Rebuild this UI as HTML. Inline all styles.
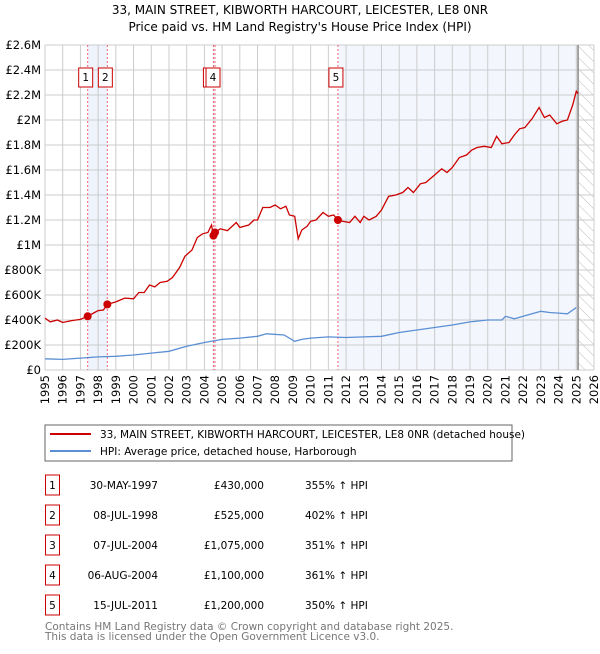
<!DOCTYPE html>
<html><head><meta charset="utf-8"><style>
body{margin:0;background:#fff;font-family:"DejaVu Sans","Liberation Sans",sans-serif;}
svg text{font-family:"DejaVu Sans","Liberation Sans",sans-serif;}
</style></head><body>
<svg id="c" width="600" height="650" viewBox="0 0 600 650" xmlns="http://www.w3.org/2000/svg">
<defs><pattern id="hatch" width="8" height="8" patternUnits="userSpaceOnUse" patternTransform="rotate(-45)"><line x1="0" y1="0" x2="0" y2="8" stroke="#bbb" stroke-width="1"/></pattern></defs>
<text x="300" y="14" text-anchor="middle" font-size="12">33, MAIN STREET, KIBWORTH HARCOURT, LEICESTER, LE8 0NR</text>
<text x="300" y="31" text-anchor="middle" font-size="12">Price paid vs. HM Land Registry's House Price Index (HPI)</text>
<g id="plot"></g>
<rect x="45" y="425" width="467" height="36" fill="#fff" stroke="#666"/>
<line x1="50" y1="434" x2="91" y2="434" stroke="#cc0000" stroke-width="2"/>
<text x="100" y="438" font-size="10.5">33, MAIN STREET, KIBWORTH HARCOURT, LEICESTER, LE8 0NR (detached house)</text>
<line x1="50" y1="451" x2="91" y2="451" stroke="#5b8fd4" stroke-width="2"/>
<text x="100" y="455" font-size="10.5">HPI: Average price, detached house, Harborough</text>
<g id="tbl"></g>
<text x="45" y="630" font-size="10.5" fill="#777">Contains HM Land Registry data © Crown copyright and database right 2025.</text>
<text x="45" y="640" font-size="10.5" fill="#777">This data is licensed under the Open Government Licence v3.0.</text>
</svg>
<script>
const redYears=[1995,1995.3,1995.7,1996,1996.5,1997,1997.41,1997.8,1998,1998.3,1998.52,1999,1999.5,2000,2000.3,2000.6,2000.9,2001.2,2001.5,2001.9,2002.2,2002.6,2002.9,2003.3,2003.6,2003.9,2004.2,2004.4,2004.51,2004.6,2004.9,2005.3,2005.8,2006,2006.5,2006.8,2007,2007.3,2007.7,2008,2008.3,2008.6,2008.8,2009.1,2009.3,2009.5,2009.8,2010,2010.3,2010.7,2011,2011.3,2011.54,2011.8,2012.2,2012.5,2012.8,2013,2013.3,2013.7,2014,2014.4,2014.8,2015.2,2015.5,2015.8,2016.2,2016.5,2017,2017.4,2017.7,2018,2018.4,2018.8,2019.1,2019.4,2019.8,2020.2,2020.5,2020.8,2021.2,2021.5,2021.8,2022.1,2022.5,2022.9,2023.2,2023.5,2023.9,2024.2,2024.5,2024.8,2025,2025.1];
const redValues=[415,385,400,380,395,405,430,460,475,480,525,545,575,570,620,620,680,665,700,710,740,820,910,960,1060,1090,1100,1160,1075,1100,1130,1115,1180,1140,1160,1200,1200,1300,1300,1320,1290,1310,1240,1230,1050,1120,1150,1190,1200,1260,1230,1240,1200,1190,1180,1230,1180,1230,1200,1230,1280,1390,1400,1420,1460,1420,1490,1500,1560,1610,1580,1620,1700,1720,1760,1780,1790,1780,1870,1810,1820,1880,1930,1940,2010,2100,2020,2040,1970,1990,2000,2120,2230,2210];
const hpiYears=[1995,1996,1997,1998,1999,2000,2001,2002,2003,2004,2005,2006,2007,2007.5,2008.5,2009.1,2009.5,2010,2011,2012,2013,2014,2015,2016,2017,2018,2019,2020,2020.8,2021,2021.5,2022,2022.5,2023,2023.5,2024,2024.5,2025];
const hpiValues=[90,85,95,105,110,120,135,150,190,220,245,255,270,290,280,230,245,255,265,260,265,270,300,320,340,360,385,400,400,430,410,430,450,470,460,455,450,500];
const saleLabels=["1","2","3","4","5"];
const saleYears=[1997.41,1998.52,2004.51,2004.6,2011.54];
const saleValues=[430,525,1075,1100,1200];
const saleDates=["30-MAY-1997","08-JUL-1998","07-JUL-2004","06-AUG-2004","15-JUL-2011"];
const salePrices=["£430,000","£525,000","£1,075,000","£1,100,000","£1,200,000"];
const salePct=["355% ↑ HPI","402% ↑ HPI","351% ↑ HPI","361% ↑ HPI","350% ↑ HPI"];
const yTicks=[0,200,400,600,800,1000,1200,1400,1600,1800,2000,2200,2400,2600];
const yTickLabels=["£0","£200K","£400K","£600K","£800K","£1M","£1.2M","£1.4M","£1.6M","£1.8M","£2M","£2.2M","£2.4M","£2.6M"];
const xTicks=[1995,1996,1997,1998,1999,2000,2001,2002,2003,2004,2005,2006,2007,2008,2009,2010,2011,2012,2013,2014,2015,2016,2017,2018,2019,2020,2021,2022,2023,2024,2025,2026];
const NS="http://www.w3.org/2000/svg";
const X0=45,X1=594,Y0=370,Y1=45;
const xs=y=>X0+(y-1995)/31*(X1-X0);
const ys=v=>Y0-v/2600*(Y0-Y1);
const g=document.getElementById('plot');
function mk(t,a,p){const e=document.createElementNS(NS,t);for(const k in a)e.setAttribute(k,a[k]);(p||g).appendChild(e);return e;}
let e;
e=mk('rect',{x:xs(1997.41),y:Y1,width:xs(1998.52)-xs(1997.41),height:Y0-Y1,fill:'#eef3fc'});


e=mk('rect',{x:xs(2004.51),y:Y1,width:xs(2004.6)-xs(2004.51),height:Y0-Y1,fill:'#eef3fc'});


e=mk('rect',{x:xs(2011.54),y:Y1,width:xs(2025.1)-xs(2011.54),height:Y0-Y1,fill:'#f3f6fd'});


e=mk('rect',{x:xs(2025.1),y:Y1,width:X1-xs(2025.1),height:Y0-Y1,fill:'url(#hatch)'});


yTicks.forEach((v,i)=>{
 e=mk('line',{x1:X0,x2:X1,y1:ys(v),y2:ys(v),stroke:'#cccccc'});
 
 
 e=mk('text',{x:X0-4,y:ys(v)+4,'text-anchor':'end','font-size':'11.5'});e.textContent=yTickLabels[i];
 
 
});
xTicks.forEach(y=>{
 e=mk('line',{x1:xs(y),x2:xs(y),y1:Y1,y2:Y0,stroke:'#cccccc'});
 
 
 e=mk('text',{x:xs(y)+4,y:Y0+5,'text-anchor':'end','font-size':'11.5',transform:`rotate(-90 ${xs(y)+4} ${Y0+5})`});e.textContent=y;
 
 
});
e=mk('line',{x1:xs(2025.1),x2:xs(2025.1),y1:Y1,y2:Y0,stroke:'#888','stroke-width':1.5});


saleYears.forEach(y=>{
 e=mk('line',{x1:xs(y),x2:xs(y),y1:Y1,y2:Y0,stroke:'#ee6677','stroke-dasharray':'2,2'});
 
 
});
e=mk('path',{d:hpiYears.map((y,i)=>(i?'L':'M')+xs(y).toFixed(1)+','+ys(hpiValues[i]).toFixed(1)).join(''),fill:'none',stroke:'#5b8fd4','stroke-width':1.3});


e=mk('path',{d:redYears.map((y,i)=>(i?'L':'M')+xs(y).toFixed(1)+','+ys(redValues[i]).toFixed(1)).join(''),fill:'none',stroke:'#cc0000','stroke-width':1.3});


saleYears.forEach((y,i)=>{
 e=mk('circle',{cx:xs(y),cy:ys(saleValues[i]),r:4,fill:'#cc0000'});
 
 
});
saleYears.forEach((y,i)=>{
 const bx=xs(y)-(i==2?10:9);
 e=mk('rect',{x:bx,y:68,width:14,height:19,fill:'#fff',stroke:'#cc0000'});
 
 
 e=mk('text',{x:bx+7,y:81,'text-anchor':'middle','font-size':'10.5'});e.textContent=saleLabels[i];
 
 
});
const t=document.getElementById('tbl');
saleLabels.forEach((l,i)=>{
 const cy=483+30*i;
 e=mk('rect',{x:45.5,y:cy-8,width:14,height:20,fill:'#fff',stroke:'#cc0000'},t);
 
 
 e=mk('text',{x:52.5,y:cy+6,'text-anchor':'middle','font-size':'10.5'},t);e.textContent=l;
 
 
 e=mk('text',{x:158,y:cy+6,'text-anchor':'end','font-size':'10.5'},t);e.textContent=saleDates[i];
 
 
 e=mk('text',{x:264,y:cy+6,'text-anchor':'end','font-size':'10.5'},t);e.textContent=salePrices[i];
 
 
 e=mk('text',{x:305,y:cy+6,'font-size':'10.5'},t);e.textContent=salePct[i];
 
 
});
</script>
</body></html>
